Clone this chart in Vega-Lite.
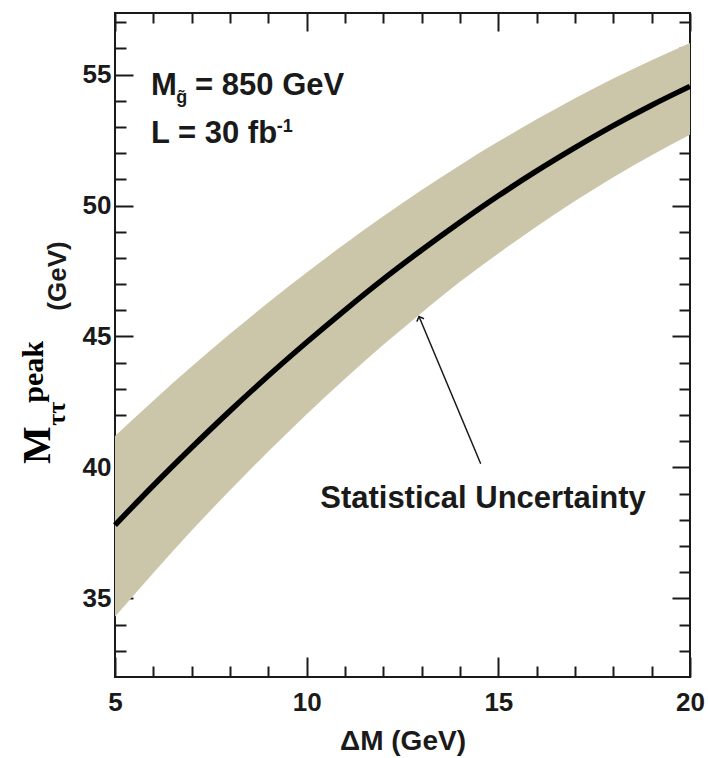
{
  "$schema": "https://vega.github.io/schema/vega-lite/v6.json",
  "width": 575,
  "height": 664,
  "autosize": {"type": "none"},
  "padding": {"left": 115, "top": 13, "right": 18, "bottom": 81},
  "background": "white",
  "config": {
    "view": {"stroke": "#1a1a1a", "strokeWidth": 2},
    "axis": {
      "grid": false,
      "domain": false,
      "tickColor": "#1a1a1a",
      "tickWidth": 2,
      "labelFont": "Liberation Sans",
      "labelFontWeight": "bold",
      "labelFontSize": 26,
      "labelColor": "#1a1a1a",
      "labelFlush": false,
      "labelOverlap": false
    }
  },
  "datasets": {
    "curve": [
      {"dm": 5, "center": 37.8, "lower": 34.3, "upper": 41.2},
      {"dm": 6, "center": 39.31, "lower": 35.97, "upper": 42.55},
      {"dm": 7, "center": 40.76, "lower": 37.59, "upper": 43.85},
      {"dm": 8, "center": 42.16, "lower": 39.13, "upper": 45.1},
      {"dm": 9, "center": 43.5, "lower": 40.61, "upper": 46.3},
      {"dm": 10, "center": 44.78, "lower": 42.03, "upper": 47.44},
      {"dm": 11, "center": 46.01, "lower": 43.39, "upper": 48.54},
      {"dm": 12, "center": 47.19, "lower": 44.68, "upper": 49.59},
      {"dm": 13, "center": 48.3, "lower": 45.91, "upper": 50.59},
      {"dm": 14, "center": 49.36, "lower": 47.09, "upper": 51.54},
      {"dm": 15, "center": 50.37, "lower": 48.17, "upper": 52.44},
      {"dm": 16, "center": 51.32, "lower": 49.2, "upper": 53.29},
      {"dm": 17, "center": 52.21, "lower": 50.17, "upper": 54.1},
      {"dm": 18, "center": 53.05, "lower": 51.08, "upper": 54.85},
      {"dm": 19, "center": 53.83, "lower": 51.92, "upper": 55.55},
      {"dm": 20, "center": 54.55, "lower": 52.7, "upper": 56.2}
    ]
  },
  "resolve": {"axis": {"x": "independent", "y": "independent"}},
  "layer": [
    {
      "data": {"name": "curve"},
      "mark": {"type": "area", "color": "#cbc6aa", "interpolate": "monotone"},
      "encoding": {
        "x": {"field": "dm", "type": "quantitative",
              "scale": {"domain": [5, 20], "nice": false, "zero": false},
              "axis": {"orient": "bottom", "values": [5, 10, 15, 20], "tickSize": -20, "labelPadding": 32,
                       "title": "ΔM (GeV)", "titleFont": "Liberation Sans", "titleFontWeight": "bold",
                       "titleFontSize": 28, "titleColor": "#1a1a1a", "titlePadding": 12}},
        "y": {"field": "lower", "type": "quantitative",
              "scale": {"domain": [32, 57.35], "nice": false, "zero": false},
              "axis": {"orient": "left", "values": [35, 40, 45, 50, 55], "tickSize": -18, "labelPadding": 22, "title": null}},
        "y2": {"field": "upper"}
      }
    },
    {
      "data": {"name": "curve"},
      "mark": {"type": "line", "color": "black", "strokeWidth": 5.5, "interpolate": "monotone"},
      "encoding": {
        "x": {"field": "dm", "type": "quantitative",
              "axis": {"orient": "top", "values": [5, 10, 15, 20], "tickSize": -18, "labels": false, "title": null}},
        "y": {"field": "center", "type": "quantitative",
              "axis": {"orient": "right", "values": [35, 40, 45, 50, 55], "tickSize": -18, "labels": false, "title": null}}
      }
    },
    {
      "data": {"values": [{"x": 14.6, "y": 38.45, "label": "Statistical Uncertainty"}]},
      "mark": {"type": "text", "font": "Liberation Sans", "fontWeight": "bold", "fontSize": 31, "align": "center", "baseline": "alphabetic", "color": "#1a1a1a"},
      "encoding": {
        "x": {"field": "x", "type": "quantitative",
              "axis": {"orient": "bottom", "values": [6, 7, 8, 9, 11, 12, 13, 14, 16, 17, 18, 19], "tickSize": -11, "labels": false, "title": null}},
        "y": {"field": "y", "type": "quantitative",
              "axis": {"orient": "left", "values": [33, 34, 36, 37, 38, 39, 41, 42, 43, 44, 46, 47, 48, 49, 51, 52, 53, 54, 56, 57], "tickSize": -11, "labels": false, "title": null}},
        "text": {"field": "label"}
      }
    },
    {
      "data": {"values": [{"x1": 14.54, "y1": 40.14, "x2": 12.93, "y2": 45.76}]},
      "mark": {"type": "rule", "color": "#1a1a1a", "strokeWidth": 1.5},
      "encoding": {
        "x": {"field": "x1", "type": "quantitative",
              "axis": {"orient": "top", "values": [6, 7, 8, 9, 11, 12, 13, 14, 16, 17, 18, 19], "tickSize": -10, "labels": false, "title": null}},
        "y": {"field": "y1", "type": "quantitative",
              "axis": {"orient": "right", "values": [33, 34, 36, 37, 38, 39, 41, 42, 43, 44, 46, 47, 48, 49, 51, 52, 53, 54, 56, 57], "tickSize": -11, "labels": false, "title": null}},
        "x2": {"field": "x2"},
        "y2": {"field": "y2"}
      }
    },
    {
      "data": {"values": [{"x": 12.93, "y": 45.76}]},
      "mark": {"type": "point", "shape": "M -1 1 L 0 0 L 1 1", "filled": false, "size": 60, "strokeWidth": 1.5, "color": "#1a1a1a", "angle": -22, "opacity": 1},
      "encoding": {
        "x": {"field": "x", "type": "quantitative", "axis": null},
        "y": {"field": "y", "type": "quantitative", "axis": null}
      }
    },
    {
      "data": {"values": [
        {"x": 5.94, "y": 54.21, "label": "M"},
        {"x": 7.09, "y": 54.21, "label": "= 850 GeV"},
        {"x": 5.94, "y": 52.38, "label": "L = 30 fb"}
      ]},
      "mark": {"type": "text", "font": "Liberation Sans", "fontWeight": "bold", "fontSize": 31, "align": "left", "baseline": "alphabetic", "color": "#1a1a1a"},
      "encoding": {
        "x": {"field": "x", "type": "quantitative", "axis": null},
        "y": {"field": "y", "type": "quantitative", "axis": null},
        "text": {"field": "label"}
      }
    },
    {
      "data": {"values": [
        {"x": 6.6, "y": 53.9, "label": "g̃"},
        {"x": 9.22, "y": 52.8, "label": "-1"}
      ]},
      "mark": {"type": "text", "font": "Liberation Sans", "fontWeight": "bold", "fontSize": 18, "align": "left", "baseline": "alphabetic", "color": "#1a1a1a"},
      "encoding": {
        "x": {"field": "x", "type": "quantitative", "axis": null},
        "y": {"field": "y", "type": "quantitative", "axis": null},
        "text": {"field": "label"}
      }
    },
    {
      "data": {"values": [{"x": 3.3, "y": 40.85, "label": "M"}]},
      "mark": {"type": "text", "font": "Liberation Serif", "fontWeight": "bold", "fontSize": 40, "angle": 270, "align": "center", "baseline": "alphabetic", "color": "black"},
      "encoding": {
        "x": {"field": "x", "type": "quantitative", "axis": null},
        "y": {"field": "y", "type": "quantitative", "axis": null},
        "text": {"field": "label"}
      }
    },
    {
      "data": {"values": [{"x": 3.7, "y": 42.05, "label": "ττ"}]},
      "mark": {"type": "text", "font": "Liberation Serif", "fontWeight": "bold", "fontSize": 26, "angle": 270, "align": "center", "baseline": "alphabetic", "color": "black"},
      "encoding": {
        "x": {"field": "x", "type": "quantitative", "axis": null},
        "y": {"field": "y", "type": "quantitative", "axis": null},
        "text": {"field": "label"}
      }
    },
    {
      "data": {"values": [{"x": 3.12, "y": 43.65, "label": "peak"}]},
      "mark": {"type": "text", "font": "Liberation Serif", "fontWeight": "bold", "fontSize": 30, "angle": 270, "align": "center", "baseline": "alphabetic", "color": "black"},
      "encoding": {
        "x": {"field": "x", "type": "quantitative", "axis": null},
        "y": {"field": "y", "type": "quantitative", "axis": null},
        "text": {"field": "label"}
      }
    },
    {
      "data": {"values": [{"x": 3.72, "y": 47.31, "label": "(GeV)"}]},
      "mark": {"type": "text", "font": "Liberation Sans", "fontWeight": "bold", "fontSize": 26, "angle": 270, "align": "center", "baseline": "alphabetic", "color": "#1a1a1a"},
      "encoding": {
        "x": {"field": "x", "type": "quantitative", "axis": null},
        "y": {"field": "y", "type": "quantitative", "axis": null},
        "text": {"field": "label"}
      }
    }
  ]
}
